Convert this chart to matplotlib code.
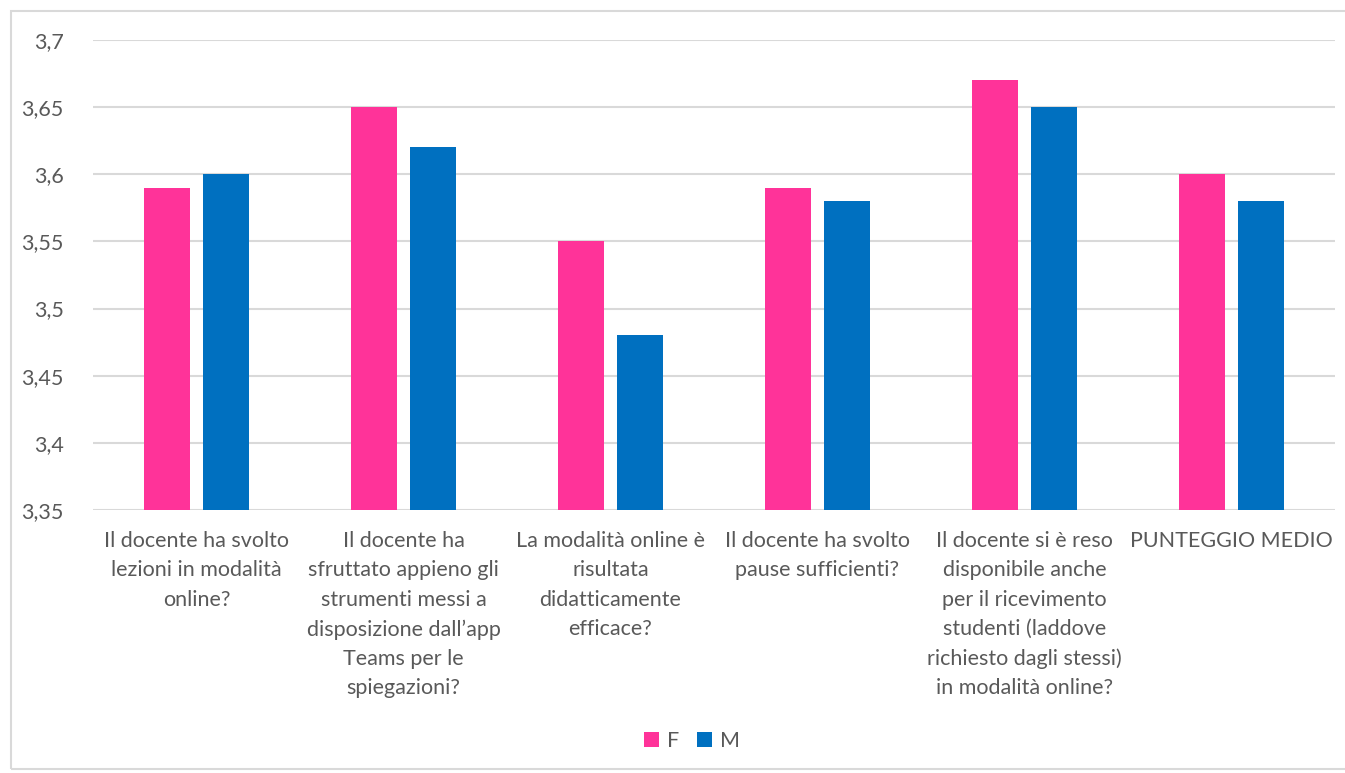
import matplotlib
matplotlib.use("Agg")
import matplotlib.pyplot as plt
from matplotlib.patches import Rectangle
import numpy as np

categories = [
    "Il docente ha svolto\nlezioni in modalità\nonline?",
    "Il docente ha\nsfruttato appieno gli\nstrumenti messi a\ndisposizione dall\u2019app\nTeams per le\nspiegazioni?",
    "La modalità online è\nrisultata\ndidatticamente\nefficace?",
    "Il docente ha svolto\npause sufficienti?",
    "Il docente si è reso\ndisponibile anche\nper il ricevimento\nstudenti (laddove\nrichiesto dagli stessi)\nin modalità online?",
    "PUNTEGGIO MEDIO",
]
F_values = [3.59, 3.65, 3.55, 3.59, 3.67, 3.60]
M_values = [3.60, 3.62, 3.48, 3.58, 3.65, 3.58]
y_ticks = [3.35, 3.40, 3.45, 3.50, 3.55, 3.60, 3.65, 3.70]

F_COLOR = "#FF3399"
M_COLOR = "#0070C0"
TXT = "#595959"
GRID = "#D9D9D9"

plt.rcParams['font.family'] = ['Lato', 'DejaVu Sans']

W, H = 1345, 773
fig = plt.figure(figsize=(W / 100, H / 100), dpi=100)
fig.patches.append(Rectangle((11 / W, 0.005), 1.2, 1 - 11 / H - 0.005, transform=fig.transFigure,
                             fill=False, edgecolor=GRID, linewidth=1.5))

left, right = 93 / W, 1335 / W
top, bottom = 1 - 40 / H, 1 - 510 / H
ax = fig.add_axes([left, bottom, right - left, top - bottom])

x = np.arange(len(categories))
bw = 0.222
gap = 0.063
ax.bar(x - (bw + gap) / 2, [v - 3.35 for v in F_values], bw, bottom=3.35, color=F_COLOR, label="F", zorder=3)
ax.bar(x + (bw + gap) / 2, [v - 3.35 for v in M_values], bw, bottom=3.35, color=M_COLOR, label="M", zorder=3)

FS = 15.5
ax.set_xlim(-0.5, len(categories) - 0.5)
ax.set_ylim(3.35, 3.70)
ax.set_yticks(y_ticks)
ax.set_yticklabels([("%g" % t).replace(".", ",") for t in y_ticks], fontsize=FS, color=TXT)
ax.grid(axis="y", color=GRID, linewidth=1.5, zorder=0)
for s in ax.spines.values():
    s.set_visible(False)
ax.tick_params(axis="y", length=0, pad=21)
ax.tick_params(axis="x", length=0)
ax.set_xticks(x)
ax.set_xticklabels([])
for i, c in enumerate(categories):
    ax.text(i, -0.045, c, transform=ax.get_xaxis_transform(), ha="center", va="top",
            fontsize=FS, color=TXT, linespacing=1.58)

leg = fig.legend(loc="center", bbox_to_anchor=(692 / W, 1 - 741 / H), ncol=2, frameon=False,
                 fontsize=FS, handlelength=0.7, handleheight=0.7, handletextpad=0.4,
                 columnspacing=0.8, labelcolor=TXT)

fig.savefig("out.png", dpi=100)
